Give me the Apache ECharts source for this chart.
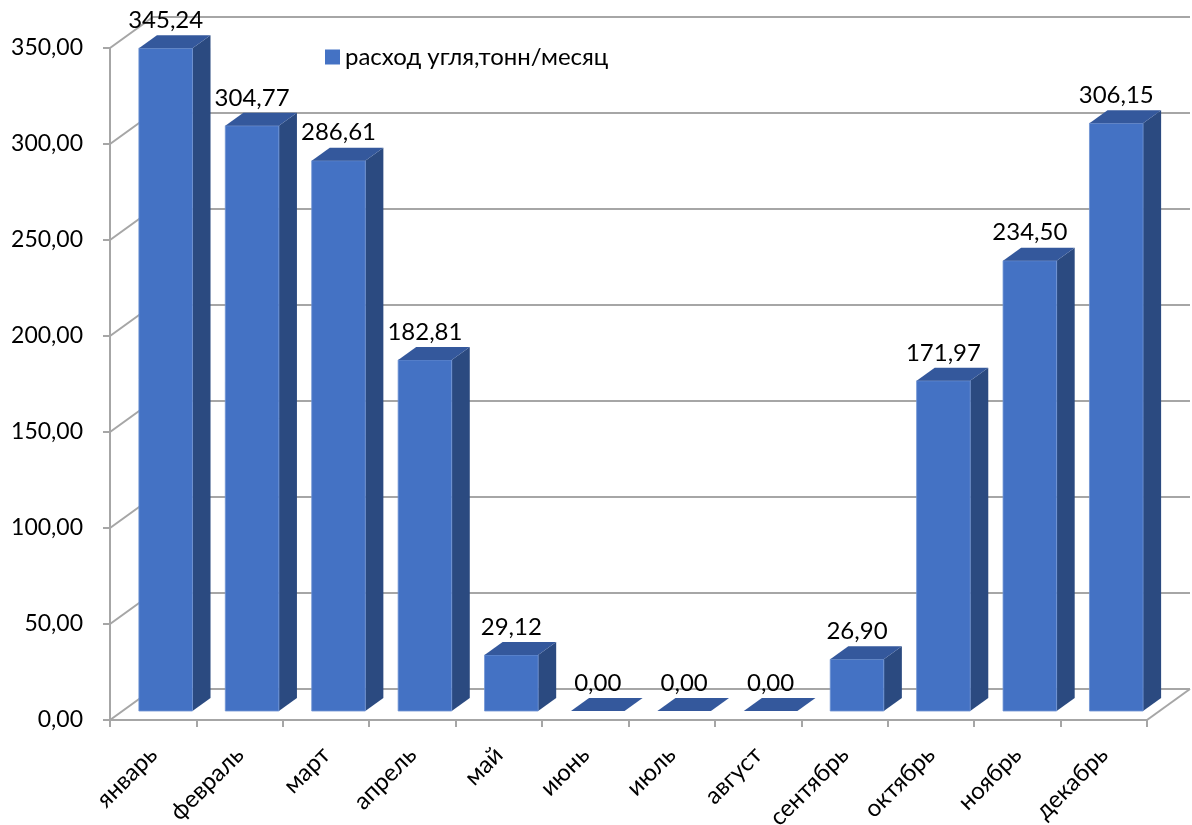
<!DOCTYPE html>
<html>
<head>
<meta charset="utf-8">
<script src="https://cdn.jsdelivr.net/npm/echarts@6/dist/echarts.min.js"></script>
<style>
  html, body { margin: 0; padding: 0; background: #fff; }
  #chart { width: 1192px; height: 825px; }
</style>
</head>
<body>
<div id="chart"></div>
<script>
// Monthly coal consumption, tonnes
const months = ['январь', 'февраль', 'март', 'апрель', 'май', 'июнь', 'июль', 'август', 'сентябрь', 'октябрь', 'ноябрь', 'декабрь'];
const coalUse = [345.24, 304.77, 286.61, 182.81, 29.12, 0.00, 0.00, 0.00, 26.90, 171.97, 234.50, 306.15];
const yTicks = [0, 50, 100, 150, 200, 250, 300, 350];
const seriesName = 'расход угля,тонн/месяц';

// 3D projection: full depth of the floor/walls in screen pixels
const DX = 43, DY = -31;
// bar occupies this slice of the depth and of the category width
const D0 = 0.29, D1 = 0.71, HALF_W = 0.31;

const FRONT = '#4472C4', TOP = '#34589C', SIDE = '#2B4A80';
const LINE = '#A6A6A6';
const FONT = 'Lato, "Noto Sans", sans-serif';

const fmt = v => v.toFixed(2).replace('.', ',');

const chart = echarts.init(document.getElementById('chart'));

chart.setOption({
  animation: false,
  backgroundColor: '#ffffff',
  textStyle: { fontFamily: FONT },
  grid: { left: 110, right: 45, top: 48, bottom: 105, containLabel: false, outerBoundsMode: 'none' },
  legend: {
    data: [{ name: seriesName, icon: 'rect' }],
    left: 320, top: 40,
    itemWidth: 15, itemHeight: 15, itemGap: 8,
    textStyle: { fontFamily: FONT, fontSize: 24, color: '#000' }
  },
  xAxis: {
    type: 'category',
    data: months,
    boundaryGap: true,
    axisLine: { show: true, lineStyle: { color: LINE, width: 2 } },
    axisTick: { show: true, interval: 0, length: 7, lineStyle: { color: LINE, width: 2 } },
    axisLabel: { interval: 0, rotate: 45, margin: 31, fontFamily: FONT, fontSize: 24, color: '#000' },
    splitLine: { show: false }
  },
  yAxis: {
    type: 'value',
    min: 0, max: 350, interval: 50,
    axisLine: { show: true, lineStyle: { color: LINE, width: 2 } },
    axisTick: { show: true, length: 7, lineStyle: { color: LINE, width: 2 } },
    axisLabel: { margin: 27, fontFamily: FONT, fontSize: 23, color: '#000', formatter: v => fmt(v) },
    splitLine: { show: false }
  },
  series: [
    {
      // side wall, back wall gridlines and the floor outline
      type: 'custom',
      name: 'walls',
      silent: true,
      clip: false,
      z: 1,
      data: yTicks.map(v => [0, v]),
      renderItem: (params, api) => {
        const cs = params.coordSys;
        const y = api.coord([0, api.value(1)])[1];
        const x0 = cs.x, x1 = cs.x + cs.width;
        const children = [{
          type: 'polyline',
          shape: { points: [[x0, y], [x0 + DX, y + DY], [x1 + DX, y + DY]] },
          style: { stroke: LINE, lineWidth: 2, fill: null }
        }];
        if (api.value(1) === 0) {
          children.push({
            type: 'line',
            shape: { x1: x1, y1: y, x2: x1 + DX, y2: y + DY },
            style: { stroke: LINE, lineWidth: 2 }
          });
        }
        return { type: 'group', children };
      }
    },
    {
      type: 'custom',
      name: seriesName,
      clip: false,
      z: 3,
      itemStyle: { color: FRONT },
      data: coalUse.map((v, i) => [i, v]),
      renderItem: (params, api) => {
        const i = api.value(0), v = api.value(1);
        const base = api.coord([i, 0]);
        const topPt = api.coord([i, v]);
        const bw = api.size([1, 0])[0];
        const cx = base[0] + D0 * DX;
        const xl = cx - HALF_W * bw, xr = cx + HALF_W * bw;
        const yb = base[1] + D0 * DY;
        const yt = topPt[1] + D0 * DY;
        const ox = (D1 - D0) * DX, oy = (D1 - D0) * DY;
        const children = [];
        // right side face
        children.push({
          type: 'polygon',
          shape: { points: [[xr, yt], [xr + ox, yt + oy], [xr + ox, yb + oy], [xr, yb]] },
          style: { fill: SIDE }
        });
        // front face
        if (yb - yt > 0.5) {
          children.push({
            type: 'rect',
            shape: { x: xl, y: yt, width: xr - xl, height: yb - yt },
            style: { fill: FRONT, stroke: '#6F93D3', lineWidth: 0.8 }
          });
        }
        // top face
        children.push({
          type: 'polygon',
          shape: { points: [[xl, yt], [xr, yt], [xr + ox, yt + oy], [xl + ox, yt + oy]] },
          style: { fill: TOP }
        });
        // value label
        children.push({
          type: 'text',
          x: cx, y: yt + oy - 3,
          style: {
            text: fmt(v),
            fontFamily: FONT, fontSize: 24, fill: '#000',
            align: 'center', verticalAlign: 'bottom'
          }
        });
        return { type: 'group', children };
      }
    }
  ]
});
</script>
</body>
</html>
